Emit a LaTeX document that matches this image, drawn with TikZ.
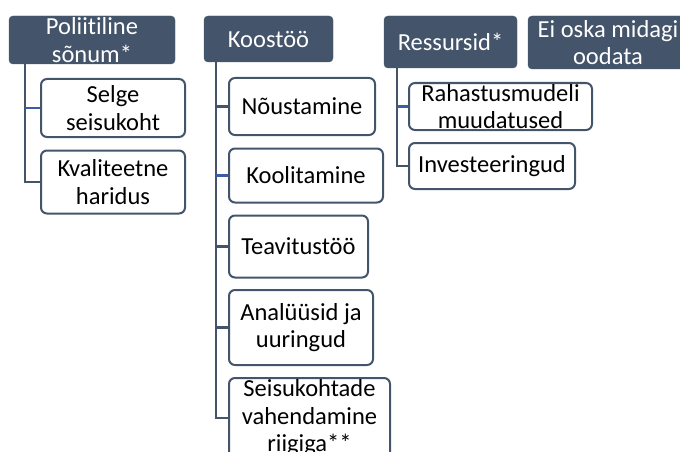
\documentclass[tikz,border=0pt]{standalone}
\usepackage{fontspec}
\setmainfont{Carlito}[Ligatures=NoCommon]
\definecolor{slate}{HTML}{44546A}
\definecolor{branchblue}{HTML}{3A5DA6}
\tikzset{
  head/.style={fill=slate, draw=slate, rounded corners=4pt, text=white, align=center,
    inner sep=0pt, font=\fontsize{24.5}{27.5}\selectfont},
  item/.style={fill=white, draw=slate, line width=2pt, rounded corners=6pt, text=black,
    align=center, inner sep=0pt, font=\fontsize{24.5}{27.5}\selectfont},
  trunk/.style={draw=slate, line width=2.5pt},
  twig/.style={draw=branchblue, line width=2.5pt},
}
\begin{document}
\begin{tikzpicture}[x=1pt,y=-1pt]
\useasboundingbox (0,0) rectangle (680,452);
\clip (0,0) rectangle (680,452);

% column headers
\node[head, minimum width=166pt, minimum height=48pt] (pol) at (92,40) {Poliitiline\\sõnum*};
\node[head, minimum width=129pt, minimum height=46pt] (koos) at (268.5,39) {Koostöö};
\node[head, minimum width=133pt, minimum height=52pt] (res) at (450.5,42) {Ressursid*};
\node[head, minimum width=160pt, minimum height=53pt] (ei) at (608,42.5) {Ei oska midagi\\oodata};

% Poliitiline sõnum
\node[item, minimum width=144pt, minimum height=58pt] (selge) at (113,108) {Selge\\seisukoht};
\node[item, minimum width=144pt, minimum height=63pt] (kval) at (113,182) {Kvaliteetne\\haridus};

% Koostöö
\node[item, minimum width=146pt, minimum height=57pt] (nou) at (302,106.5) {Nõustamine};
\node[item, minimum width=154pt, minimum height=54pt] (kool) at (306,175.5) {Koolitamine};
\node[item, minimum width=139pt, minimum height=62pt] (teav) at (298.5,246.5) {Teavitustöö};
\node[item, minimum width=144pt, minimum height=75pt] (anal) at (301,327.5) {Analüüsid ja\\uuringud};
\node[item, minimum width=161pt, minimum height=80pt] (seis) at (309.5,418) {Seisukohtade\\vahendamine\\riigiga**};

% Ressursid
\node[item, minimum width=183pt, minimum height=47pt] (raha) at (500.5,106.5) {Rahastusmudeli\\muudatused};
\node[item, minimum width=166pt, minimum height=46pt] (inv) at (492,166) {Investeeringud};

% trunk points under the headers
\coordinate (polT) at ([xshift=16pt]pol.south west);
\coordinate (koosT) at ([xshift=12pt]koos.south west);
\coordinate (resT) at ([xshift=13pt]res.south west);

% connectors
\draw[trunk] (polT) |- (kval.west);
\draw[twig] (polT |- selge.west) -- (selge.west);

\draw[trunk] (koosT) |- (seis.west);
\draw[trunk] (koosT |- nou.west) -- (nou.west);
\draw[twig] (koosT |- kool.west) -- (kool.west);
\draw[trunk] (koosT |- teav.west) -- (teav.west);
\draw[trunk] (koosT |- anal.west) -- (anal.west);

\draw[trunk] (resT) |- (inv.west);
\draw[twig] (resT |- raha.west) -- (raha.west);
\end{tikzpicture}
\end{document}
